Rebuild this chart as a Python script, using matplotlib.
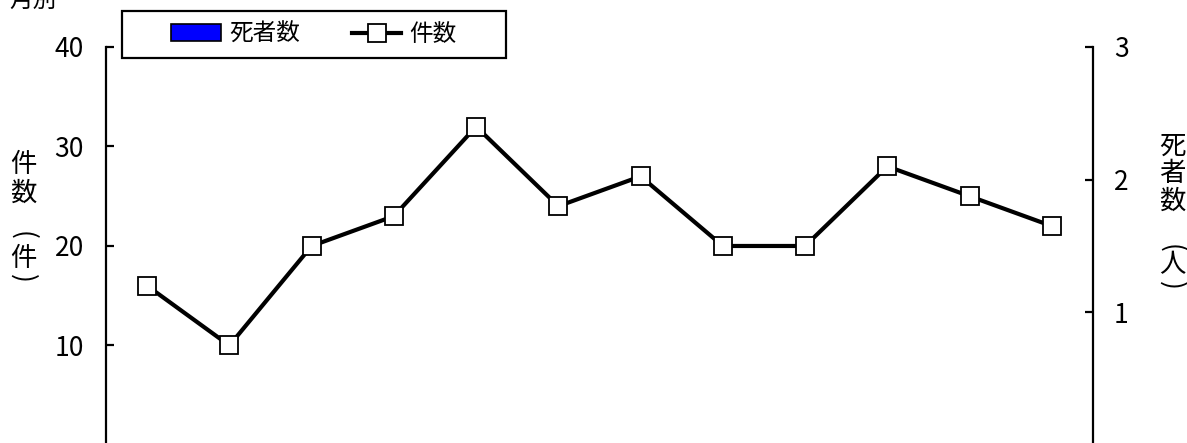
import matplotlib
matplotlib.use("Agg")
import matplotlib.pyplot as plt
from matplotlib.patches import Rectangle
from matplotlib.legend_handler import HandlerPatch
import numpy as np

plt.rcParams['font.family'] = ['Noto Sans CJK JP', 'DejaVu Sans']

# -------------------------
# Data (monthly)
# -------------------------
months = ["1月", "2月", "3月", "4月", "5月", "6月",
          "7月", "8月", "9月", "10月", "11月", "12月"]
cases = [16, 10, 20, 23, 32, 24, 27, 20, 20, 28, 25, 22]   # 件数
deaths = [0, 0, 0, 0, 0, 0, 0, 0, 0, 0, 0, 0]                # 死者数

x = np.arange(len(months))
fs = 17
W, H = 1187, 443

fig = plt.figure(figsize=(W / 100, H / 100), dpi=100)
ax = fig.add_axes([0.0893, -0.0045, 0.8315, 0.8985])
ax2 = ax.twinx()

# deaths as bars (right axis)
bars = ax2.bar(x, deaths, width=0.5, color="#0000ff", edgecolor="black",
               linewidth=1.2, label="死者数")

# cases as line (left axis)
line, = ax.plot(x, cases, color="black", lw=3.0, marker="s", markersize=13.5,
                markerfacecolor="white", markeredgecolor="black",
                markeredgewidth=1.3, label="件数", zorder=3)

ax.set_xlim(-0.5, len(months) - 0.5)
ax.set_ylim(0, 40)
ax.set_yticks([10, 20, 30, 40])
ax2.set_ylim(0, 3)
ax2.set_yticks([1, 2, 3])
ax.set_xticks(x)
ax.set_xticklabels(months)
ax.tick_params(axis="x", bottom=False, labelbottom=False)

for a in (ax, ax2):
    for s in ("top", "bottom"):
        a.spines[s].set_visible(False)
    for s in ("left", "right"):
        a.spines[s].set_linewidth(1.6)
ax.spines["right"].set_visible(False)
ax2.spines["left"].set_visible(False)

ax.tick_params(axis="y", direction="in", length=6, width=1.6, pad=16,
               labelsize=19)
ax2.tick_params(axis="y", direction="in", length=6, width=1.6, pad=15,
                labelsize=19)

# vertical axis titles, one character per row (pixel rows from top);
# brackets are turned sideways like in vertical Japanese writing
left_title = [("件", 164), ("数", 193), ("(", 235), ("件", 259), (")", 278)]
right_title = [("死", 146), ("者", 174), ("数", 201), ("(", 248),
               ("人", 265), (")", 285)]
for cx, title in ((23, left_title), (1172, right_title)):
    for ch, py in title:
        rot = -90 if ch in "()" else 0
        fig.text(cx / W, 1 - py / H, ch, fontsize=19, ha="center",
                 va="center", rotation=rot)

# cut-off title at the top
fig.text(0.008, 1.0, "月別", fontsize=fs, ha="left", va="center")


# -------------------------
# Legend
# -------------------------
def thin_patch(legend, orig_handle, xdescent, ydescent, width, height, fontsize):
    return Rectangle((-xdescent, -ydescent + height * 0.12), width, height * 0.76)


box = (122 / W, 1 - 58 / H, 384 / W, 47 / H)
leg = ax2.legend([bars, line], ["死者数", "件数"], ncol=2,
                 loc="center", bbox_to_anchor=box,
                 bbox_transform=fig.transFigure,
                 fontsize=fs, frameon=False, borderaxespad=0,
                 handlelength=2.1, handletextpad=0.35, columnspacing=2.2,
                 borderpad=0.3,
                 handler_map={Rectangle: HandlerPatch(patch_func=thin_patch)})
fig.add_artist(Rectangle(box[:2], box[2], box[3], transform=fig.transFigure,
                         facecolor="none", edgecolor="black", linewidth=1.6))

fig.savefig("out.png", dpi=100)
